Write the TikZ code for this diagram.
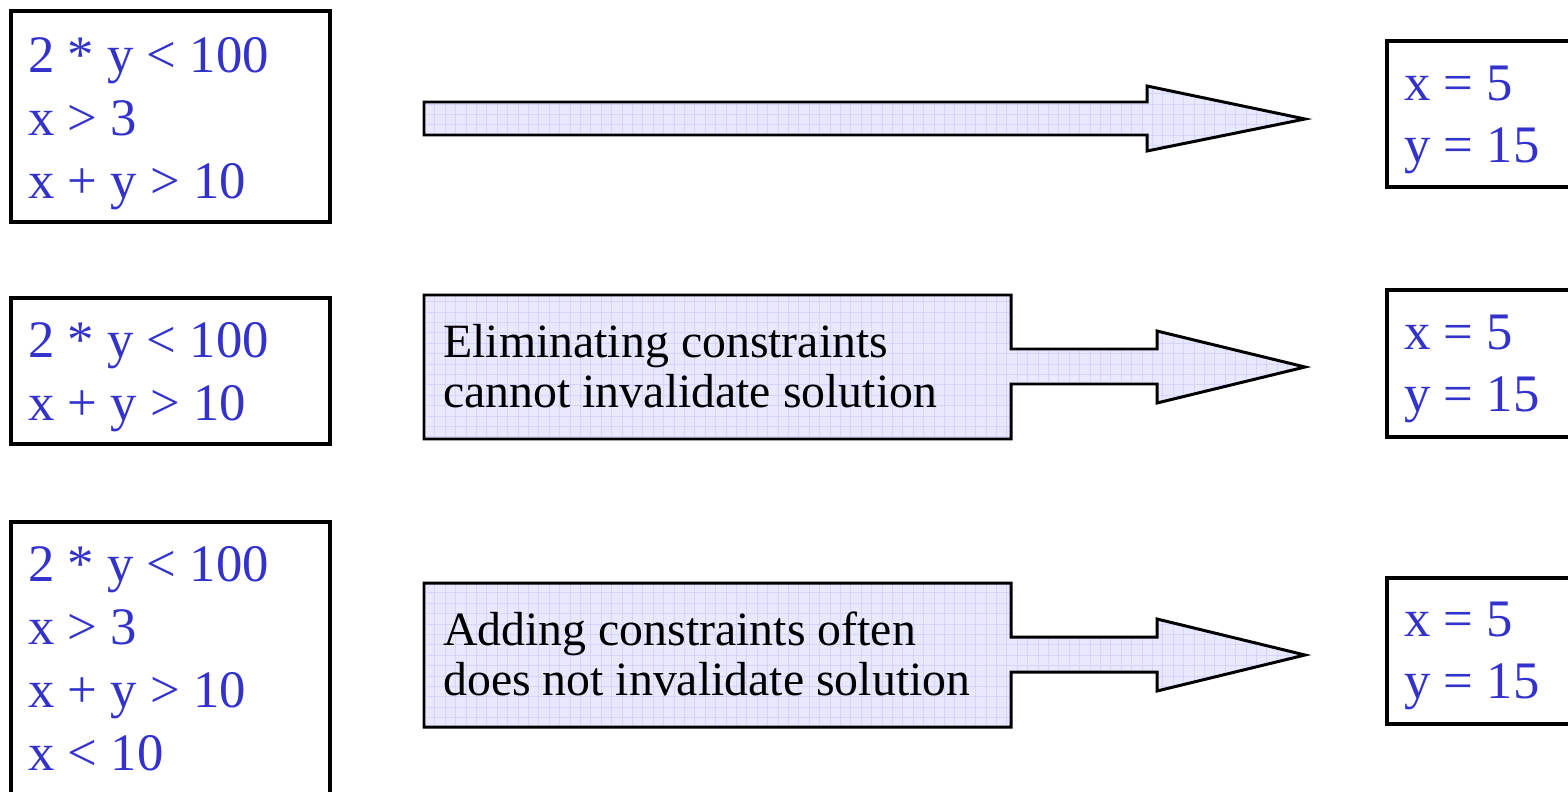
\documentclass[tikz,border=0pt]{standalone}
\usepackage{fontspec}
\setmainfont{Liberation Serif}
\definecolor{eqblue}{RGB}{51,51,204}
\definecolor{arrfill}{RGB}{232,232,255}
\definecolor{gridc}{RGB}{212,212,252}
\tikzset{
  eqbox/.style={draw=black, line width=2.5pt, fill=white},
  eqtext/.style={anchor=base west, inner sep=0pt, text=eqblue, font=\fontsize{30}{36}\selectfont},
  calltext/.style={anchor=base west, inner sep=0pt, text=black, font=\fontsize{27.2}{32}\selectfont},
  arrowshape/.style={draw=black, line width=1.7pt, line join=miter},
}
\newcommand{\gridfill}[1]{%
  \begin{scope}
    \clip #1;
    \fill[arrfill] (400,0) rectangle (1320,800);
    \foreach \gx in {414,424.4,...,1320} \draw[gridc, line width=0.4pt] (\gx,0) -- (\gx,800);
    \foreach \gy in {0,10.4,...,800} \draw[gridc, line width=0.4pt] (400,\gy) -- (1320,\gy);
  \end{scope}
  \draw[arrowshape] #1;
}
\begin{document}
\begin{tikzpicture}[x=0.02cm, y=-0.02cm]
\useasboundingbox (0,0) rectangle (1568,791);
\clip (0,0) rectangle (1568,791);
\fill[white] (0,0) rectangle (1568,791);

% left boxes
\node[eqbox, anchor=north west, minimum width=319*0.02cm, minimum height=211*0.02cm, inner sep=0pt] (L1) at (9,9) {};
\node[eqbox, anchor=north west, minimum width=319*0.02cm, minimum height=146*0.02cm, inner sep=0pt] (L2) at (9,296) {};
\node[eqbox, anchor=north west, minimum width=319*0.02cm, minimum height=300*0.02cm, inner sep=0pt] (L3) at (9,520) {};

\node[eqtext] (l1a) at (28,72) {2 * y < 100};
\node[eqtext] (l1b) at (28,135) {x > 3};
\node[eqtext] (l1c) at (28,198) {x + y > 10};

\node[eqtext] (l2a) at (28,357) {2 * y < 100};
\node[eqtext] (l2b) at (28,420) {x + y > 10};

\node[eqtext] (l3a) at (28,581) {2 * y < 100};
\node[eqtext] (l3b) at (28,644) {x > 3};
\node[eqtext] (l3c) at (28,707) {x + y > 10};
\node[eqtext] (l3d) at (28,770) {x < 10};

% right boxes
\node[eqbox, anchor=north west, minimum width=260*0.02cm, minimum height=146*0.02cm, inner sep=0pt] (R1) at (1385,39) {};
\node[eqbox, anchor=north west, minimum width=260*0.02cm, minimum height=147*0.02cm, inner sep=0pt] (R2) at (1385,288) {};
\node[eqbox, anchor=north west, minimum width=260*0.02cm, minimum height=146*0.02cm, inner sep=0pt] (R3) at (1385,576) {};

\node[eqtext] (r1a) at (1404,100) {x = 5};
\node[eqtext] (r1b) at (1404,162) {y = 15};
\node[eqtext] (r2a) at (1404,349) {x = 5};
\node[eqtext] (r2b) at (1404,411) {y = 15};
\node[eqtext] (r3a) at (1404,636) {x = 5};
\node[eqtext] (r3b) at (1404,698) {y = 15};

% arrow 1
\gridfill{(424,102) -- (1147,102) -- (1147,86) -- (1305,119) -- (1147,151) -- (1147,135) -- (424,135) -- cycle}

% callout arrow 2
\gridfill{(424,295) -- (1011,295) -- (1011,349) -- (1157,349) -- (1157,331) -- (1305,367) -- (1157,403) -- (1157,384) -- (1011,384) -- (1011,439) -- (424,439) -- cycle}
\node[calltext] (c2a) at (443,357) {Eliminating constraints};
\node[calltext] (c2b) at (443,407) {cannot invalidate solution};

% callout arrow 3
\gridfill{(424,583) -- (1011,583) -- (1011,637) -- (1157,637) -- (1157,619) -- (1305,655) -- (1157,691) -- (1157,672) -- (1011,672) -- (1011,727) -- (424,727) -- cycle}
\node[calltext] (c3a) at (443,645) {Adding constraints often};
\node[calltext] (c3b) at (443,695) {does not invalidate solution};
\end{tikzpicture}
\end{document}
